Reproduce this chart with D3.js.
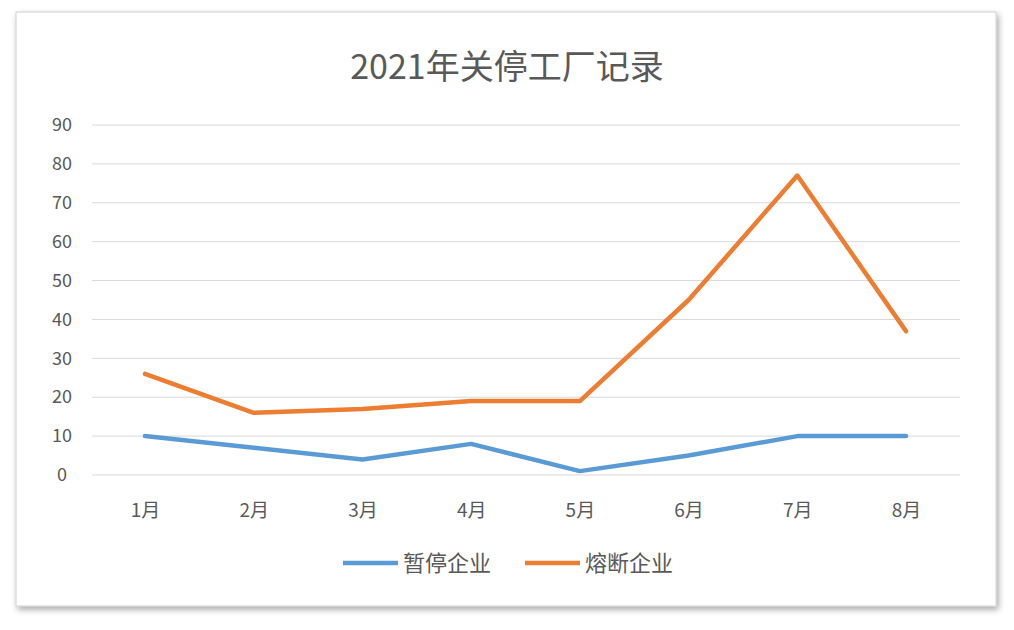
<!DOCTYPE html>
<html>
<head>
<meta charset="utf-8">
<script src="https://cdn.jsdelivr.net/npm/d3@7"></script>
<style>
  body { margin: 0; background: #fff; }
  text { font-family: "Noto Sans CJK SC", "DejaVu Sans", sans-serif; }
</style>
</head>
<body>
<div id="chart"></div>
<script>
const WIDTH = 1014;
const HEIGHT = 630;

const months = ['1月', '2月', '3月', '4月', '5月', '6月', '7月', '8月'];
const suspended = [10, 7, 4, 8, 1, 5, 10, 10];
const fused = [26, 16, 17, 19, 19, 45, 77, 37];
const yTicks = [0, 10, 20, 30, 40, 50, 60, 70, 80, 90];
const seriesNames = ['暂停企业', '熔断企业'];
const colors = ['#5B9BD5', '#ED7D31'];

const svg = d3.select('#chart').append('svg')
  .attr('width', WIDTH)
  .attr('height', HEIGHT);

// frame with soft shadow
const defs = svg.append('defs');
const f = defs.append('filter').attr('id', 'sh').attr('x', '-5%').attr('y', '-5%').attr('width', '110%').attr('height', '110%');
f.append('feDropShadow').attr('dx', 2).attr('dy', 3).attr('stdDeviation', 3).attr('flood-color', '#000').attr('flood-opacity', 0.35);

svg.append('rect')
  .attr('x', 16).attr('y', 12).attr('width', 980).attr('height', 594)
  .attr('fill', '#fff').attr('stroke', '#d0d0d0').attr('filter', 'url(#sh)');

svg.append('text')
  .attr('x', 507).attr('y', 79)
  .attr('text-anchor', 'middle')
  .attr('font-size', 34).attr('fill', '#595959')
  .text('2021年关停工厂记录');

const x = d3.scalePoint().domain(months).range([145, 906]);
const y = d3.scaleLinear().domain([0, 90]).range([475, 125]);

// gridlines
svg.append('g').selectAll('line')
  .data(yTicks)
  .join('line')
  .attr('x1', 92).attr('x2', 960)
  .attr('y1', d => y(d)).attr('y2', d => y(d))
  .attr('stroke', '#d9d9d9').attr('stroke-width', 1);

const yAxis = svg.append('g')
  .attr('transform', 'translate(80,0)')
  .call(d3.axisLeft(y).tickValues(yTicks).tickSize(0).tickPadding(0));
yAxis.select('.domain').remove();
yAxis.selectAll('text').attr('font-size', 18).attr('fill', '#595959')
  .attr('font-family', '"Noto Sans CJK SC", sans-serif').attr('text-anchor', 'middle').attr('x', -18);

const xAxis = svg.append('g')
  .attr('transform', 'translate(0,503)')
  .call(d3.axisBottom(x).tickSize(0).tickPadding(0));
xAxis.select('.domain').remove();
xAxis.selectAll('text').attr('font-size', 19).attr('fill', '#595959')
  .attr('font-family', '"Noto Sans CJK SC", sans-serif');

const line = d3.line()
  .x((d, i) => x(months[i]))
  .y(d => y(d));

[suspended, fused].forEach((s, i) => {
  svg.append('path')
    .datum(s)
    .attr('d', line)
    .attr('fill', 'none')
    .attr('stroke', colors[i])
    .attr('stroke-width', 4.5)
    .attr('stroke-linejoin', 'round')
    .attr('stroke-linecap', 'round');
});

// legend
const legend = svg.append('g').selectAll('g')
  .data(seriesNames)
  .join('g')
  .attr('transform', (d, i) => `translate(${343 + i * 182},563)`);
legend.append('line')
  .attr('x1', 0).attr('x2', 55)
  .attr('stroke', (d, i) => colors[i]).attr('stroke-width', 4.5);
legend.append('text')
  .attr('x', 60).attr('y', 8)
  .attr('font-size', 22).attr('fill', '#595959')
  .text(d => d);
</script>
</body>
</html>
